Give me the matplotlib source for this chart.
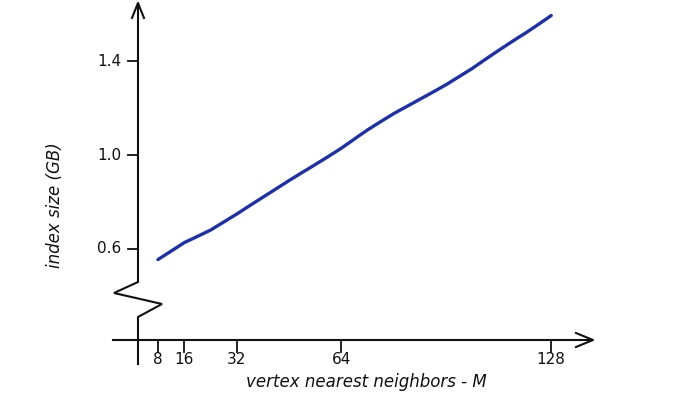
import matplotlib
matplotlib.use("Agg")
import matplotlib.pyplot as plt
import numpy as np

# index size vs M
m_values = [8, 16, 24, 32, 40, 48, 56, 64, 72, 80, 88, 96, 104, 112, 120, 128]
index_gb = [0.555, 0.629, 0.681, 0.747, 0.818, 0.891, 0.961, 1.03, 1.105,
            1.175, 1.239, 1.301, 1.368, 1.443, 1.517, 1.595]

x_ticks = [8, 16, 32, 64, 128]
y_ticks = [0.6, 1.0, 1.4]
y_tick_labels = ["0.6", "1.0", "1.4"]

W, H = 700, 393
fig = plt.figure(figsize=(W / 100, H / 100), dpi=100)
ax = fig.add_axes([0, 0, 1, 1])
ax.set_xlim(-40.24, 173.5)
ax.set_ylim(-0.0128, 1.6596)
ax.axis("off")

def fx(px):
    return px / W

def fy(py):
    return 1 - py / H

ink = "#111111"
font = "DejaVu Sans"

# y axis with break
ypath_x = [138, 138, 114, 162, 138, 138]
ypath_y = [5, 282, 293, 304, 317, 364]
ax.plot([fx(p) for p in ypath_x], [fy(p) for p in ypath_y], color=ink, lw=1.5,
        transform=ax.transAxes, clip_on=False, solid_joinstyle="miter")
ax.plot([fx(132), fx(138), fx(144)], [fy(18), fy(3), fy(18)], color=ink, lw=1.5,
        transform=ax.transAxes, clip_on=False)

# x axis
ax.plot([fx(113), fx(592)], [fy(340), fy(340)], color=ink, lw=1.5,
        transform=ax.transAxes, clip_on=False)
ax.plot([fx(576), fx(593), fx(576)], [fy(333), fy(340), fy(347)], color=ink, lw=1.5,
        transform=ax.transAxes, clip_on=False)

# ticks
xt = ax.get_xaxis_transform()
for v in x_ticks:
    ax.plot([v, v], [fy(340), fy(352)], color=ink, lw=1.3, transform=xt)
    ax.text(v, fy(360), str(v), transform=xt, ha="center", va="center",
            fontsize=11, family=font, color=ink)

yt = ax.get_yaxis_transform()
for v, lab in zip(y_ticks, y_tick_labels):
    ax.plot([fx(128), fx(138)], [v, v], color=ink, lw=1.3, transform=yt)
    ax.text(fx(121), v, lab, transform=yt, ha="right", va="center",
            fontsize=11, family=font, color=ink)

ax.text(fx(366), fy(382), "vertex nearest neighbors - M", transform=ax.transAxes,
        ha="center", va="center", fontsize=12, family=font, style="italic", color=ink)
ax.text(fx(55), fy(205), "index size (GB)", transform=ax.transAxes, rotation=90,
        ha="center", va="center", fontsize=12, family=font, style="italic", color=ink)

line, = ax.plot(m_values, index_gb, color="#1c2fae", lw=2.4, solid_capstyle="round")
line.set_sketch_params(scale=0.4, length=200, randomness=4)

fig.savefig("out.png", dpi=100)
